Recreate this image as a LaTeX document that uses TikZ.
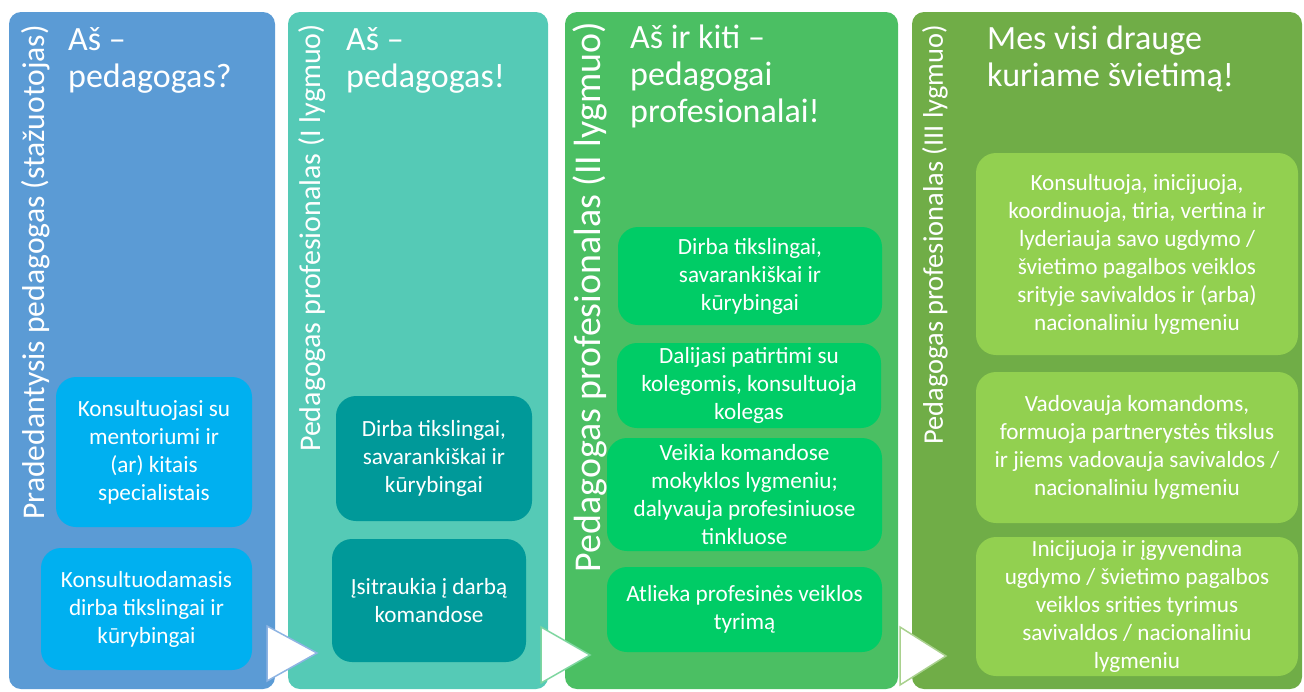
\documentclass[tikz,border=0pt]{standalone}
\usepackage{fontspec}
\setmainfont{Carlito}
\definecolor{bluebg}{HTML}{5B9BD5}
\definecolor{bluebox}{HTML}{00B0F0}
\definecolor{aquabg}{HTML}{55CAB6}
\definecolor{aquabox}{HTML}{009999}
\definecolor{greenbg}{HTML}{4BBF63}
\definecolor{greenbox}{HTML}{00CC66}
\definecolor{olivebg}{HTML}{70AD47}
\definecolor{olivebox}{HTML}{92D050}
\definecolor{bluetri}{HTML}{8EB4E3}
\definecolor{greentri}{HTML}{7ED6A0}
\definecolor{olivetri}{HTML}{A9D18E}

\begin{document}
\begin{tikzpicture}[x=1pt, y=-1pt,
  panel/.style={rounded corners=12pt, inner sep=0pt, outer sep=0pt, minimum height=677pt},
  box/.style={rounded corners=20pt, inner sep=0pt, outer sep=0pt, text=white, align=center, font=\fontsize{23.2}{28}\selectfont},
  title/.style={anchor=north west, inner sep=0pt, text=white, align=left, font=\fontsize{34}{37}\selectfont},
  level/.style={rotate=90, anchor=east, inner sep=0pt, text=white, font=\fontsize{#1}{36}\selectfont},
  tri/.style={fill=white, line width=1.5pt, line join=miter}]
\useasboundingbox (0,0) rectangle (1304,691);

\node[panel, fill=bluebg, minimum width=266pt] (p1) at (142,350.5) {};
\node[panel, fill=aquabg, minimum width=260pt] (p2) at (418,350.5) {};
\node[panel, fill=greenbg, minimum width=333pt] (p3) at (731.5,350.5) {};
\node[panel, fill=olivebg, minimum width=390pt] (p4) at (1107,350.5) {};

\node[level=31.6] (l1) at (36,25) {Pradedantysis pedagogas (stažuotojas)};
\node[level=30] (l2) at (312,24) {Pedagogas profesionalas (I lygmuo)};
\node[level=37.9] (l3) at (590,22) {Pedagogas profesionalas (II lygmuo)};
\node[level=28.4] (l4) at (935,25) {Pedagogas profesionalas (III lygmuo)};

\node[title] (t1) at (68,27) {Aš –\\pedagogas?};
\node[title] (t2) at (346,27) {Aš –\\pedagogas!};
\node[title] (t3) at (630,25) {Aš ir kiti –\\pedagogai\\profesionalai!};
\node[title] (t4) at (987,26) {Mes visi drauge\\kuriame švietimą!};

\node[box, fill=bluebox, minimum width=196pt, minimum height=150pt] (k1a) at (154,452) {Konsultuojasi su\\mentoriumi ir\\(ar) kitais\\specialistais};
\node[box, fill=bluebox, minimum width=211pt, minimum height=122pt] (k1b) at (146.5,609) {Konsultuodamasis\\dirba tikslingai ir\\kūrybingai};

\node[box, fill=aquabox, minimum width=196pt, minimum height=125pt] (k2a) at (434,458.5) {Dirba tikslingai,\\savarankiškai ir\\kūrybingai};
\node[box, fill=aquabox, minimum width=194pt, minimum height=123pt] (k2b) at (429,600.5) {Įsitraukia į darbą\\komandose};

\node[box, fill=greenbox, minimum width=264pt, minimum height=98pt] (k3a) at (750,276) {Dirba tikslingai,\\savarankiškai ir\\kūrybingai};
\node[box, fill=greenbox, minimum width=264pt, minimum height=85pt] (k3b) at (749,385.5) {Dalijasi patirtimi su\\kolegomis, konsultuoja\\kolegas};
\node[box, fill=greenbox, minimum width=275pt, minimum height=113pt] (k3c) at (744.5,494.5) {Veikia komandose\\mokyklos lygmeniu;\\dalyvauja profesiniuose\\tinkluose};
\node[box, fill=greenbox, minimum width=275pt, minimum height=85pt] (k3d) at (744.5,609.5) {Atlieka profesinės veiklos\\tyrimą};

\node[box, fill=olivebox, minimum width=322pt, minimum height=202pt] (k4a) at (1137,254) {Konsultuoja, inicijuoja,\\koordinuoja, tiria, vertina ir\\lyderiauja savo ugdymo /\\švietimo pagalbos veiklos\\srityje savivaldos ir (arba)\\nacionaliniu lygmeniu};
\node[box, fill=olivebox, minimum width=322pt, minimum height=151pt] (k4b) at (1137,447.5) {Vadovauja komandoms,\\formuoja partnerystės tikslus\\ir jiems vadovauja savivaldos /\\nacionaliniu lygmeniu};
\node[box, fill=olivebox, minimum width=322pt, minimum height=139pt] (k4c) at (1137,606.5) {Inicijuoja ir įgyvendina\\ugdymo / švietimo pagalbos\\veiklos srities tyrimus\\savivaldos / nacionaliniu\\lygmeniu};

\draw[tri, draw=bluetri] (267,626) -- (317,653) -- (267,681) -- cycle;
\draw[tri, draw=greentri] (541,627) -- (590,655) -- (541,683) -- cycle;
\draw[tri, draw=olivetri] (900,627) -- (946,656) -- (900,685) -- cycle;
\end{tikzpicture}
\end{document}
